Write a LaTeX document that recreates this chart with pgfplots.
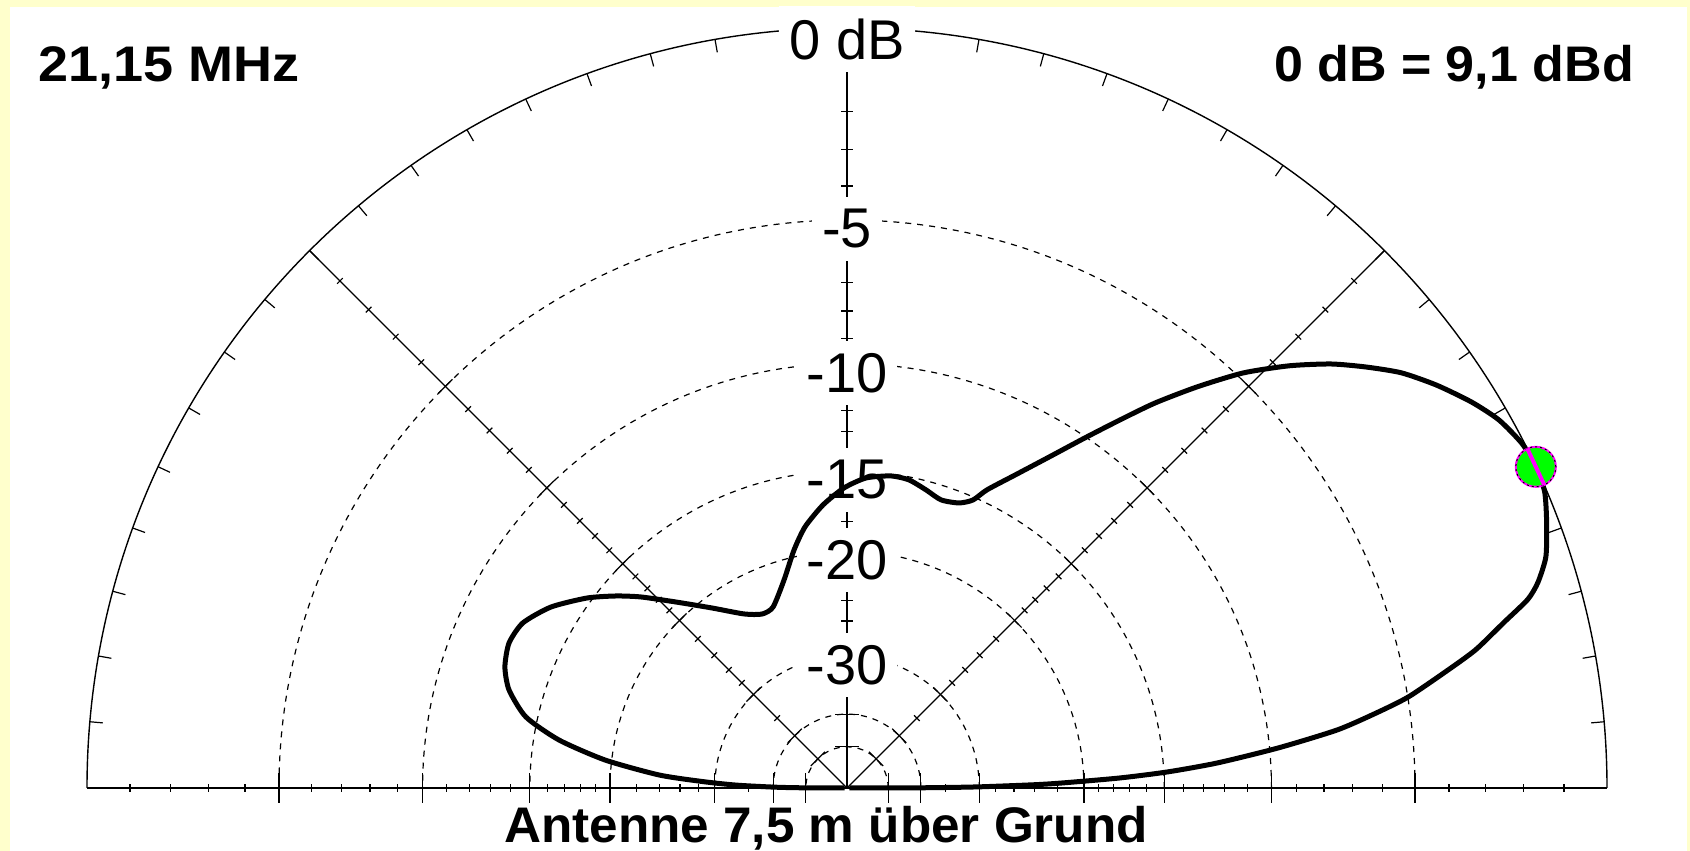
\documentclass[border=0pt]{standalone}
\usepackage{graphicx}
\usepackage{pgfplots}
\pgfplotsset{compat=1.18}
\usepackage{pgfplotstable}
\usepackage{fontspec}
\setmainfont{Liberation Sans}
\definecolor{bgyellow}{RGB}{255,255,204}
\definecolor{mgreen}{RGB}{0,255,0}
\definecolor{mmag}{RGB}{255,0,255}

% elevation pattern: angle (deg) and relative gain (dB)
\pgfplotstableread{
ang db
0 -99
0.1 -44
0.25 -36
0.5 -30
1.0 -24
1.35 -21.6
2.1 -17.6
2.87 -14.8
3.87 -12.3
5.31 -9.65
6.76 -7.40
8.08 -6.03
9.23 -4.97
11.13 -3.69
12.41 -2.85
14.14 -1.98
15.48 -1.26
16.57 -0.91
18.31 -0.55
20.76 -0.27
23.0 -0.05
25.0 0
27.0 -0.05
29.44 -0.26
31.74 -0.60
34.38 -1.08
36.84 -1.60
39.05 -2.21
41.22 -2.86
43.68 -3.74
46.34 -4.83
48.88 -6.11
51.34 -7.43
53.43 -8.68
55.79 -10.04
58.51 -11.51
61.66 -13.01
64.84 -14.35
66.37 -15.15
68.55 -15.60
71.92 -15.78
75.15 -15.48
78.62 -15.16
81.97 -15.11
86.49 -15.36
90.57 -15.95
94.85 -16.89
99.14 -18.12
102.55 -19.51
106.85 -21.49
112.23 -23.30
116.04 -23.47
120.62 -22.72
126.87 -20.89
132.6 -18.90
137.16 -17.08
140.27 -15.93
143.84 -14.74
148.55 -13.46
153.0 -12.65
156.78 -12.46
160.51 -12.69
163.83 -13.22
167.53 -14.38
170.54 -16.42
173.4 -19.53
176.04 -23.94
177.45 -28.5
178.5 -33
179.3 -40
179.7 -47
180 -99
}\patterntab

\pgfplotstableread{
ang db
25 0
}\peaktab

% ARRL log scale: radius = 760 * 0.89^(-dB/2), centre at (847,63)
\pgfplotstablecreatecol[create col/expr={847+760*exp(0.058266*\thisrow{db})*cos(\thisrow{ang})}]{X}{\patterntab}
\pgfplotstablecreatecol[create col/expr={63+760*exp(0.058266*\thisrow{db})*sin(\thisrow{ang})}]{Y}{\patterntab}
\pgfplotstablecreatecol[create col/expr={847+760*exp(0.058266*\thisrow{db})*cos(\thisrow{ang})}]{X}{\peaktab}
\pgfplotstablecreatecol[create col/expr={63+760*exp(0.058266*\thisrow{db})*sin(\thisrow{ang})}]{Y}{\peaktab}

\tikzset{lab/.style={fill=white, inner xsep=10pt, inner ysep=12pt, font=\fontsize{56}{62}\selectfont}}

\begin{document}
\begin{tikzpicture}[x=1pt, y=1pt]
% background
\fill[bgyellow] (0,0) rectangle (1690,851);
\fill[white] (10,0) rectangle (1687,844);
% dashed circles
\foreach \dd in {-5,-10,-15,-20,-30,-40,-50}{
  \pgfmathsetmacro\rr{760*exp(0.058266*\dd)}
  \draw[line width=1.2pt, dash pattern=on 6pt off 6pt] (847+\rr,63) arc[start angle=0, end angle=180, radius=\rr];
}
% outer circle, baseline, radial lines
\draw[line width=1.4pt] (1607,63) arc[start angle=0,end angle=180,radius=760];
\draw[line width=1.4pt] (87,63) -- (1607,63);
\draw[line width=1.2pt] (847,63) -- (847+537.4,63+537.4);
\draw[line width=1.2pt] (847,63) -- (847-537.4,63+537.4);
\draw[line width=1.4pt] (847,63) -- (847,823);
% outer circle ticks
\foreach \aa in {5,10,...,175}{
  \draw[line width=1.2pt] ({847+760*cos(\aa)},{63+760*sin(\aa)}) -- ({847+747*cos(\aa)},{63+747*sin(\aa)});
}
% minor ticks
\foreach \dd in {-1,-2,-3,-4,-6,-7,-8,-9,-11,-12,-13,-14,-16,-17,-18,-19,-22,-24,-26,-28,-35}{
  \pgfmathsetmacro\rr{760*exp(0.058266*\dd)}
  \pgfmathsetmacro\qq{0.7071*\rr}
  \draw[line width=1.2pt] (847+\rr,59) -- (847+\rr,67);
  \draw[line width=1.2pt] (847-\rr,59) -- (847-\rr,67);
  \draw[line width=1.2pt] (841,63+\rr) -- (853,63+\rr);
  \draw[line width=1.2pt] (847+\qq-2.83,63+\qq+2.83) -- (847+\qq+2.83,63+\qq-2.83);
  \draw[line width=1.2pt] (847-\qq+2.83,63+\qq+2.83) -- (847-\qq-2.83,63+\qq-2.83);
}
% major ticks
\foreach \dd in {-5,-10,-15,-20,-30,-40,-50}{
  \pgfmathsetmacro\rr{760*exp(0.058266*\dd)}
  \pgfmathsetmacro\qq{0.7071*\rr}
  \draw[line width=1.2pt] (847+\rr,48) -- (847+\rr,78);
  \draw[line width=1.2pt] (847-\rr,48) -- (847-\rr,78);
  \draw[line width=1.2pt] (835,63+\rr) -- (859,63+\rr);
  \draw[line width=1.2pt] (847+\qq-7.07,63+\qq+7.07) -- (847+\qq+7.07,63+\qq-7.07);
  \draw[line width=1.2pt] (847-\qq+7.07,63+\qq+7.07) -- (847-\qq-7.07,63+\qq-7.07);
}
% scale labels
\node[lab] at (847,812) {0 dB};
\node[lab] at (847,622) {-5};
\node[lab] at (847,478) {-10};
\node[lab] at (847,371) {-15};
\node[lab] at (847,291) {-20};
\node[lab] at (847,186) {-30};
% texts
\node[anchor=base west, inner sep=0pt, font=\bfseries\fontsize{50}{60}\selectfont] at (38,769) {\scalebox{1.08}[1]{21,15 MHz}};
\node[anchor=base east, inner sep=0pt, font=\bfseries\fontsize{50}{60}\selectfont] at (1634,769) {\scalebox{1.04}[1]{0 dB = 9,1 dBd}};
\node[anchor=base, inner sep=0pt, font=\bfseries\fontsize{50}{60}\selectfont] at (826,8) {\scalebox{1.025}[1]{Antenne 7,5 m über Grund}};

\begin{axis}[at={(0pt,0pt)}, anchor=south west, scale only axis, width=1690pt, height=851pt,
  xmin=0, xmax=1690, ymin=0, ymax=851, hide axis, clip=false]
\addplot[black, line width=5pt, line join=round, smooth, tension=0.4] table[x=X, y=Y] {\patterntab};
\addplot[only marks, mark=*, mark size=20pt, mark options={fill=mgreen, draw=mmag, line width=2pt}] table[x=X, y=Y] {\peaktab};
\addplot[only marks, mark=o, mark size=20pt, mark options={draw=black, line width=1pt, dash pattern=on 2pt off 3pt}] table[x=X, y=Y] {\peaktab};
\addplot[only marks, mark=|, mark size=20pt, mark options={draw=mmag, line width=4pt, rotate=25}] table[x=X, y=Y] {\peaktab};
\end{axis}
\end{tikzpicture}
\end{document}
